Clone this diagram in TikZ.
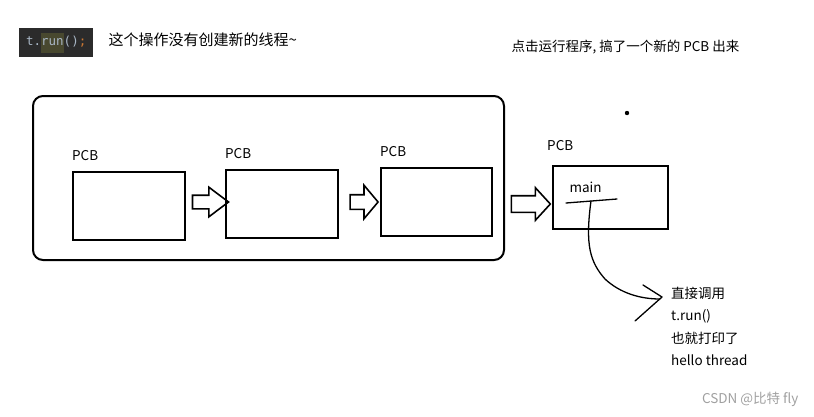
\documentclass[tikz,border=0pt]{standalone}
\usepackage{fontspec}
\usetikzlibrary{shapes.arrows}
\newfontfamily\cjk{Noto Sans CJK SC}
\newfontfamily\codefont{DejaVu Sans Mono}
\definecolor{codebg}{HTML}{2B2B2B}
\definecolor{codehl}{HTML}{48482F}
\definecolor{codefg}{HTML}{A9B7C6}
\definecolor{codesemi}{HTML}{CC7832}
\definecolor{mark}{HTML}{A0A0A0}

\tikzset{every node/.style={font=\cjk\fontsize{13.5}{16}\selectfont}}
\tikzset{pcb/.style={draw,line width=2pt,minimum width=112pt,minimum height=68pt,
    label={[anchor=south west,inner sep=0pt,yshift=10pt]north west:PCB}}}
\tikzstyle{hollow}=[single arrow,draw,line width=1.6pt,inner xsep=0pt,inner ysep=6.5pt,
    single arrow head extend=8pt,single arrow tip angle=85]

\begin{document}
\begin{tikzpicture}[x=1pt,y=-1pt]
            \useasboundingbox (0,0) rectangle (814,416);

            % code snippet
            \node [fill=codebg,minimum width=74pt,minimum height=29pt,anchor=north west,
                font=\codefont\fontsize{12.5}{14}\selectfont] (code) at (19,28)
                {\textcolor{codefg}{t.}\colorbox{codehl}{\strut\kern-3pt\textcolor{codefg}{run}\kern-3pt}\textcolor{codefg}{()}\textcolor{codesemi}{;}};
            \node [anchor=west,font=\cjk\fontsize{15}{18}\selectfont] (note) at (105,40) {这个操作没有创建新的线程\textasciitilde};
            \node [anchor=west] (title) at (508,47) {点击运行程序, 搞了一个新的 PCB 出来};
            \fill (627,113) circle (2.2);

            % the process
            \draw [line width=2pt,rounded corners=10pt] (33,96) rectangle (504,260);
            \node [pcb] (b1) at (129,206) {};
            \node [pcb] (b2) at (282,204) {};
            \node [pcb,minimum width=111pt] (b3) at (436.5,202) {};
            \node [draw,line width=2pt,minimum width=115pt,minimum height=63pt,
                label={[anchor=south west,inner sep=0pt,yshift=14pt,xshift=-5pt]north west:PCB}] (main) at (610.5,197.5) {};
            \node [anchor=west] (mainlbl) at (566,187) {main};

            \node [hollow,minimum height=36pt,inner ysep=6pt,single arrow tip angle=74] (a1) at (206,202) {};
            \node [hollow,minimum height=28pt,single arrow head extend=9.5pt,single arrow tip angle=100] (a2) at (361,202) {};
            \node [hollow,minimum height=39pt,inner ysep=7.5pt,single arrow tip angle=95] (a3) at (527,204) {};

            % t.run() hand drawing
            \coordinate (tl) at (566,203);
            \coordinate (tr) at (617,199);
            \coordinate (tj) at (591,201);
            \coordinate (tip) at (660,299);
            \node [anchor=north west,align=left,inner sep=0pt,
                font=\cjk\fontsize{13.5}{22.4}\selectfont] (call) at (671,287)
                {直接调用\\t.run()\\也就打印了\\hello thread};
            \draw [line width=1.3pt,line cap=round] (tl) -- (tr);
            \draw [line width=1.3pt,line cap=round] (tj) .. controls (585,245) and (590,262) .. (605,279)
                .. controls (620,293) and (640,299) .. (tip);
            \draw [line width=1.3pt,line cap=round,line join=round] (643,285) -- (662,297) -- (635,321);

            \node [anchor=east,text=mark] (wm) at (802,399) {CSDN @比特 fly};
        \end{tikzpicture}
\end{document}
